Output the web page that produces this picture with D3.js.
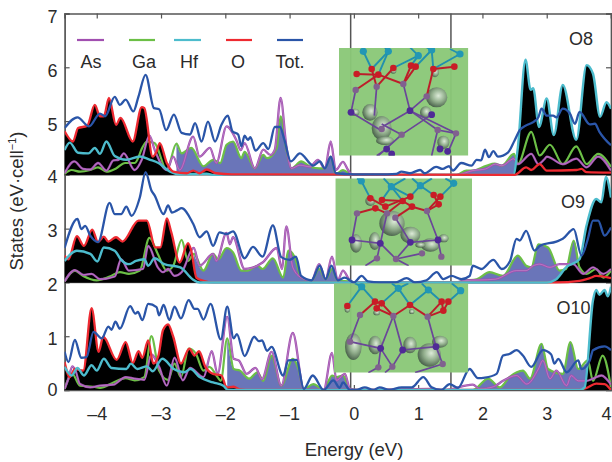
<!DOCTYPE html>
<html><head><meta charset="utf-8">
<style>html,body{margin:0;padding:0;background:#fff}svg{display:block}text{font-family:"Liberation Sans",Arial,sans-serif;fill:#2b2b2b}</style>
<script src="https://cdn.jsdelivr.net/npm/d3@7/dist/d3.min.js"></script>
</head><body><svg id="c" width="612" height="462"></svg>
<script>
// ---------- data: [energy (eV), states relative to panel baseline] ----------
const yTicks=[0,1,2,3,4,5,6,7];
const xTicks=[-4,-3,-2,-1,0,1,2,3,4];
const legendNames=["As","Ga","Hf","O","Tot."];
const vLines=[-0.05,1.51];

const o8Tot=[[-4.5,.87],[-4.3,1.07],[-4.12,.9],[-3.95,1.14],[-3.87,1.09],[-3.72,1.45],[-3.64,1.3],[-3.55,1.4],[-3.43,1.18],[-3.35,1.46],[-3.24,1.86],[-3.11,1.24],[-3.03,1.22],[-2.92,.83],[-2.8,1.12],[-2.68,.78],[-2.55,.75],[-2.47,.96],[-2.37,.62],[-2.27,.99],[-2.16,.62],[-2.06,.93],[-1.96,1.1],[-1.89,.81],[-1.8,.75],[-1.75,.53],[-1.7,.73],[-1.65,.65],[-1.61,.7],[-1.53,.45],[-1.41,.59],[-1.33,.48],[-1.23,.89],[-1.15,.89],[-1.08,.65],[-.98,.25],[-.84,.4],[-.63,.17],[-.53,.25],[-.45,.12],[-.36,.34],[-.28,.03],[0,.01],[.4,.01],[.66,.02],[.74,.06],[.87,.03],[1.03,.09],[1.1,.03],[1.28,.15],[1.38,.11],[1.48,.16],[1.54,.08],[1.67,.22],[1.83,.17],[1.91,.28],[1.98,.27],[2.04,.47],[2.1,.33],[2.17,.44],[2.24,.34],[2.4,.42],[2.5,.64],[2.58,.83],[2.68,.92],[2.79,.98],[2.87,1.07],[2.92,1.23],[3,1.1],[3.1,1.1],[3.15,1.07],[3.25,1.23],[3.36,1.14],[3.44,.95],[3.51,1.17],[3.67,.94],[3.75,.95],[3.82,.8],[4,.55]];
const o8O=[[-4.5,.81],[-4.37,.62],[-4.29,.87],[-4.15,.91],[-4.03,1.3],[-3.95,1.09],[-3.89,1.09],[-3.81,1.43],[-3.7,.93],[-3.63,1.06],[-3.44,.62],[-3.3,1.26],[-3.26,1.24],[-3.13,.34],[-3.07,.43],[-3.02,.59],[-2.91,.22],[-2.81,.06],[-2.6,.03],[-2.5,.08],[-2.4,.03],[-2.29,.1],[-2.14,.03],[-1.9,.01],[2.5,0],[2.68,.14],[2.76,.09],[2.89,.2],[3,.08],[3.46,.09],[3.54,.11],[3.62,.05],[4,.04]];
const o8Hf=[[-4.5,.46],[-4.42,.6],[-4.29,.41],[-4.13,.4],[-4.03,.5],[-3.95,.39],[-3.85,.62],[-3.72,.35],[-3.54,.28],[-3.33,.34],[-3.17,.28],[-3.04,.22],[-2.86,.06],[-2.71,.01],[-2.29,.02],[-2.18,0],[2.48,0],[2.55,.5],[2.67,2.14],[2.75,1.58],[2.79,1.61],[2.88,.89],[3,1.42],[3.11,.74],[3.25,1.67],[3.46,.65],[3.62,2.04],[3.72,1.88],[3.83,1.08],[3.93,1.35],[4,1.23]];
const o8As=[[-4.5,.03],[-4.35,.25],[-4.21,.11],[-4.1,.1],[-3.98,.22],[-3.85,.08],[-3.74,.27],[-3.66,.28],[-3.58,.4],[-3.41,.09],[-3.3,.28],[-3.18,.73],[-3.1,.47],[-2.91,.09],[-2.81,.34],[-2.71,.09],[-2.5,.71],[-2.4,.34],[-2.24,.5],[-2.14,.22],[-1.98,.9],[-1.83,.65],[-1.76,.46],[-1.7,.59],[-1.54,.12],[-1.41,.47],[-1.3,.37],[-1.23,.47],[-1.14,1.43],[-1.05,.53],[-.97,.12],[-.84,.18],[-.68,.15],[-.56,.28],[-.45,.12],[-.36,.62],[-.28,.09],[-.17,.24],[-.09,.09],[-.03,0],[1.6,0],[1.85,.08],[2.05,.11],[2.2,.2],[2.3,.17],[2.49,.3],[2.55,.2],[2.76,.39],[2.87,.2],[2.97,.3],[3,.34],[3.25,.2],[3.46,.3],[3.62,.14],[3.8,.34],[4,.08]];
const o8Ga=[[-4.5,.02],[-4.39,.09],[-4.26,.06],[-4.1,.09],[-3.98,.14],[-3.85,.06],[-3.7,.12],[-3.56,.22],[-3.41,.22],[-3.28,.53],[-3.22,.62],[-3.1,.59],[-2.91,.09],[-2.76,.58],[-2.68,.4],[-2.53,.5],[-2.34,.16],[-2.19,.28],[-2.08,.22],[-1.98,.56],[-1.88,.62],[-1.75,.31],[-1.7,.43],[-1.54,.12],[-1.41,.37],[-1.35,.31],[-1.2,.5],[-1.14,1.09],[-1.05,.47],[-.97,.12],[-.82,.25],[-.68,.15],[-.53,.12],[-.45,.12],[-.36,.34],[-.28,.01],[-.17,.09],[-.03,0],[1.6,0],[1.75,.08],[1.85,.08],[2.06,.17],[2.19,.21],[2.3,.17],[2.49,.39],[2.55,.2],[2.76,.8],[2.89,.36],[3.05,.56],[3.25,.2],[3.46,.53],[3.62,.2],[3.8,.39],[4,.15]];

const o9Tot=[[-4.5,.64],[-4.3,1.18],[-4.24,.99],[-4.18,1.05],[-4.1,.87],[-3.98,.75],[-3.8,1.48],[-3.72,1.27],[-3.62,1.27],[-3.54,1.41],[-3.46,1.24],[-3.33,1.58],[-3.24,2.05],[-3.15,1.71],[-3.1,1.62],[-2.96,1.27],[-2.89,1.43],[-2.83,1.3],[-2.75,1.34],[-2.68,1.38],[-2.5,1.09],[-2.4,.84],[-2.29,.95],[-2.19,.68],[-2.09,.93],[-1.98,.9],[-1.88,.95],[-1.7,.45],[-1.57,.66],[-1.42,.48],[-1.26,1.06],[-1.13,.47],[-1,.42],[-.9,.48],[-.82,.12],[-.66,.04],[-.53,.31],[-.44,.06],[-.35,.31],[-.25,.04],[-.14,.09],[0,0],[.12,.12],[.22,.02],[.4,0],[.65,0],[.82,.08],[.95,0],[1.13,.04],[1.29,.19],[1.39,.06],[1.52,.12],[1.67,.06],[1.8,.12],[1.85,.31],[1.98,.25],[2.17,.42],[2.3,.25],[2.43,.4],[2.53,.81],[2.58,.78],[2.68,.96],[2.81,.59],[2.89,.68],[3.15,.76],[3.25,.81],[3.42,.99],[3.54,.5],[3.64,.81],[3.72,1.15],[3.8,1.15],[3.9,.87],[4,1.02]];
const o9O=[[-4.5,.5],[-4.44,.43],[-4.31,.86],[-4.2,.68],[-4.07,.98],[-3.98,.75],[-3.89,.85],[-3.82,.76],[-3.7,.84],[-3.6,.76],[-3.35,1.15],[-3.22,1.15],[-3.09,.65],[-3.01,.65],[-2.91,1.19],[-2.84,.93],[-2.71,.37],[-2.58,.73],[-2.53,.59],[-2.45,.09],[-2.34,.03],[-2.19,0],[3.15,0],[3.51,.03],[3.67,.08],[3.77,.12],[4,.08]];
const o9Hf=[[-4.5,.4],[-4.31,.59],[-4.1,.53],[-3.99,.39],[-3.89,.65],[-3.72,.59],[-3.62,.42],[-3.5,.34],[-3.39,.4],[-3.26,.43],[-3.2,.31],[-3.1,.45],[-2.95,.34],[-2.7,.28],[-2.51,.06],[-2.4,0],[3,0],[3.15,.06],[3.3,.28],[3.51,.43],[3.62,1.06],[3.77,1.55],[3.85,1.49],[3.92,1.96],[4,1.58]];
const o9As=[[-4.5,.02],[-4.34,.23],[-4.21,.14],[-4.08,.16],[-3.95,.06],[-3.72,.11],[-3.62,.43],[-3.5,.22],[-3.28,.25],[-3.2,.68],[-3.05,.28],[-2.97,.19],[-2.89,.25],[-2.79,.12],[-2.68,.19],[-2.49,.64],[-2.4,.31],[-2.19,.53],[-2.14,.4],[-1.98,.92],[-1.93,.71],[-1.88,.84],[-1.7,.25],[-1.42,.37],[-1.2,.64],[-1.12,.25],[-1.05,1.04],[-.95,.28],[-.82,.09],[-.66,.03],[-.54,.34],[-.44,.06],[-.34,.48],[-.25,.04],[-.17,.22],[-.06,.03],[0,0],[1.6,0],[1.7,.03],[2.2,.06],[2.53,.22],[2.68,.22],[2.79,.31],[2.89,.34],[3.05,.28],[3.2,.34],[3.41,.34],[3.57,.16],[3.72,.28],[3.88,.16],[4,.25]];
const o9Ga=[[-4.5,.02],[-4.34,.22],[-4.21,.12],[-4,.04],[-3.8,.11],[-3.64,.19],[-3.5,.16],[-3.33,.22],[-3.18,.83],[-3.05,.53],[-2.91,.22],[-2.81,.31],[-2.68,.79],[-2.58,.4],[-2.49,.53],[-2.34,.22],[-2.19,.53],[-2.11,.43],[-1.98,.64],[-1.88,.56],[-1.75,.22],[-1.65,.22],[-1.5,.31],[-1.42,.25],[-1.26,.45],[-1.1,.09],[-1.02,.59],[-.92,.47],[-.82,.09],[-.66,.03],[-.54,.25],[-.44,.06],[-.34,.25],[-.25,.03],[-.06,.02],[0,0],[1.6,0],[1.7,.03],[1.91,.06],[2.11,.19],[2.32,.12],[2.55,.5],[2.68,.31],[2.76,.28],[2.87,.71],[3.02,.65],[3.2,.22],[3.3,.25],[3.42,.78],[3.51,.28],[3.62,.16],[3.77,.25],[3.88,.09],[4,.22]];

const o10Tot=[[-4.5,.71],[-4.44,.52],[-4.34,.93],[-4.24,.6],[-4.16,.61],[-4.05,1.08],[-3.92,.96],[-3.82,1.18],[-3.77,1.12],[-3.71,1.27],[-3.64,1.14],[-3.48,1.56],[-3.4,1.42],[-3.36,1.45],[-3.29,1.3],[-3.2,1.6],[-3.07,1.54],[-3.03,1.39],[-2.96,1.58],[-2.87,1.3],[-2.79,1.55],[-2.69,1.33],[-2.57,1.67],[-2.48,1.51],[-2.43,1.51],[-2.34,1.31],[-2.23,1.6],[-2.07,.94],[-1.97,1.55],[-1.87,.96],[-1.82,1.04],[-1.7,.63],[-1.55,.99],[-1.48,.91],[-1.43,.92],[-1.35,.73],[-1.28,.8],[-1.1,.27],[-1.02,.55],[-.89,.56],[-.78,.02],[-.64,.27],[-.47,0],[-.32,.18],[-.22,.04],[-.17,.14],[-.06,0],[.04,0],[.17,.05],[.3,0],[.4,.05],[.55,0],[.74,.05],[.9,.05],[1.08,.24],[1.21,.05],[1.36,0],[1.49,.11],[1.62,.04],[1.8,.39],[1.93,.22],[2.04,.23],[2.22,.3],[2.32,.64],[2.42,.67],[2.53,.74],[2.63,.64],[2.76,.43],[2.94,.74],[3.07,.66],[3.12,.49],[3.18,.58],[3.31,.33],[3.49,.55],[3.54,.39],[3.67,.55],[3.72,.74],[3.9,.81],[4,.74]];
const o10O=[[-4.5,.52],[-4.42,.24],[-4.34,.39],[-4.21,.36],[-4.08,1.52],[-3.97,.71],[-3.9,.99],[-3.69,.56],[-3.55,.89],[-3.44,.5],[-3.35,.72],[-3.29,.6],[-3.2,.92],[-3.12,.49],[-3.04,.64],[-2.97,1.11],[-2.89,1.22],[-2.81,.99],[-2.69,.49],[-2.56,.77],[-2.48,.64],[-2.41,.72],[-2.31,.43],[-2.19,.3],[-2.06,.27],[-1.98,.05],[-1.87,.06],[-1.77,.01],[-1.6,0],[3.51,0],[3.62,.04],[3.77,.12],[3.9,.11],[4,0]];
const o10Hf=[[-4.5,.43],[-4.39,.27],[-4.3,.41],[-4.2,.27],[-4.08,.46],[-4,.36],[-3.89,.58],[-3.77,.41],[-3.54,.39],[-3.47,.49],[-3.37,.39],[-3.22,.44],[-3.13,.35],[-2.98,.58],[-2.8,.39],[-2.64,.33],[-2.54,.39],[-2.4,.24],[-2.19,.14],[-2.03,.08],[-1.96,0],[3.51,0],[3.59,.05],[3.72,1.67],[3.77,1.86],[3.82,1.77],[3.9,1.86],[3.95,1.74],[4,1.92]];
const o10As=[[-4.5,.02],[-4.44,.21],[-4.38,.44],[-4.33,.36],[-4.26,.11],[-4.1,.05],[-3.95,.08],[-3.74,.1],[-3.55,.24],[-3.41,.21],[-3.26,.19],[-3.15,.66],[-3.03,.43],[-2.91,.08],[-2.79,.6],[-2.66,.18],[-2.55,.41],[-2.34,.24],[-2.21,.72],[-2.12,.3],[-1.97,1.36],[-1.87,.58],[-1.79,.55],[-1.67,.3],[-1.53,.41],[-1.43,.2],[-1.28,.71],[-1.13,.08],[-.95,1.06],[-.78,.02],[-.63,0],[-.47,0],[-.34,.69],[-.27,.18],[-.14,.3],[-.06,.02],[.04,0],[1.18,.02],[1.4,0],[1.85,.1],[1.96,.02],[2.17,.06],[2.32,.17],[2.53,.27],[2.69,.11],[2.87,.39],[2.94,.55],[3.05,.21],[3.15,.36],[3.31,.08],[3.38,.27],[3.49,.17],[3.62,.17],[3.72,.21],[3.85,.27],[4,.1]];
const o10Ga=[[-4.5,.02],[-4.38,.3],[-4.26,.08],[-4.05,.06],[-3.95,.04],[-3.74,.14],[-3.55,.22],[-3.41,.18],[-3.26,.24],[-3.15,1],[-3.03,.36],[-2.89,.19],[-2.79,.49],[-2.69,.24],[-2.57,.77],[-2.46,.68],[-2.34,.36],[-2.25,.43],[-2.12,.24],[-2.07,.17],[-1.97,.96],[-1.87,.39],[-1.77,.36],[-1.63,.21],[-1.5,.33],[-1.41,.17],[-1.28,.64],[-1.13,.08],[-.95,.58],[-.87,.42],[-.78,.02],[-.63,.11],[-.47,0],[-.34,.27],[-.27,.24],[-.17,.27],[-.06,.02],[.04,0],[1.85,0],[2.09,.21],[2.27,.05],[2.42,.24],[2.63,.36],[2.74,.21],[2.92,.86],[3.02,.39],[3.25,.3],[3.37,.89],[3.49,.39],[3.64,.55],[3.72,.17],[3.87,.64],[4,.05]];

const panels=[
 {label:"O8", base:4, Tot:o8Tot,O:o8O,Hf:o8Hf,As:o8As,Ga:o8Ga, fill:[-2.85,2.55], top:"O"},
 {label:"O9", base:2, Tot:o9Tot,O:o9O,Hf:o9Hf,As:o9As,Ga:o9Ga, fill:[-2.5,3.56], top:"Hf"},
 {label:"O10",base:0, Tot:o10Tot,O:o10O,Hf:o10Hf,As:o10As,Ga:o10Ga, fill:[-2.0,3.65], top:"Hf"}
];

// structure insets (illustration, in 3x-zoomed local units)
const inset1={o:[335,44],rect:[12,12,400,335],
 blobs:[[305,160,32,30],[105,205,23,25],[140,252,30,36],[150,290,27,13],[272,205,17,18],[300,85,12,15],[325,295,18,20],[60,205,13,11],[175,80,9,9]],
 bondsHf:[[85,22,110,75],[160,22,130,92],[160,22,110,75],[160,22,145,5],[250,35,228,65],[250,35,175,72],[250,35,220,5],[290,18,295,75],[290,18,242,68],[290,18,265,5],[375,30,295,75],[375,30,345,15]],
 bondsO:[[65,90,130,92],[110,75,125,128],[130,92,62,138],[175,72,125,128],[228,65,205,120],[295,75,358,68],[295,75,275,157],[242,68,205,120],[130,92,205,120]],
 bondsAs:[[62,138,48,205],[125,128,118,215],[205,120,225,200],[275,157,225,200],[48,205,140,260],[225,200,140,250],[225,200,363,268],[290,212,200,272],[140,240,200,272],[200,272,130,335],[308,258,290,335],[308,258,363,268],[363,268,340,322],[155,315,125,335],[225,200,308,258]],
 hf:[[85,22],[160,22],[250,35],[290,18],[375,30]],
 ox:[[65,90],[110,75],[130,92],[175,72],[228,65],[242,68],[295,75],[358,68]],
 as:[[62,138],[125,128],[205,120],[275,157],[200,272],[308,258],[363,268],[140,255]],
 ga:[[48,205],[225,200],[290,212],[155,315],[170,330],[315,315],[338,322]]};
const inset2={o:[332,175],rect:[10,10,420,272],
 blobs:[[180,145,38,38],[235,180,30,25],[72,205,18,28],[128,198,17,27],[295,210,28,20],[335,190,15,12],[115,78,15,15],[265,210,15,8]],
 bondsHf:[[88,18,115,70],[178,35,150,75],[178,35,212,78],[178,35,235,65],[265,32,235,65],[265,32,305,60],[365,25,325,65],[178,35,155,10],[178,35,220,10],[265,32,300,10],[88,18,75,10],[265,32,240,10],[365,25,340,10]],
 bondsO:[[75,115,130,100],[130,100,165,115],[165,115,212,78],[190,128,240,95],[240,95,285,108],[285,108,320,88],[115,70,160,95],[150,75,212,78],[212,78,240,95],[235,65,160,95],[305,60,320,88],[325,65,285,108]],
 bondsAs:[[75,115,60,195],[165,115,145,205],[190,128,235,202],[285,108,318,195],[60,195,145,205],[235,202,318,195],[145,205,135,250],[145,205,192,252],[235,202,192,252],[318,195,328,245],[192,252,270,235],[135,250,100,272],[192,252,230,272]],
 hf:[[88,18],[178,35],[265,32],[365,25]],
 ox:[[115,70],[150,75],[130,100],[212,78],[235,65],[240,95],[160,95],[305,60],[325,65],[320,88]],
 as:[[75,115],[165,115],[190,128],[285,108],[135,250],[192,252],[270,235],[328,245]],
 ga:[[60,195],[145,205],[235,202],[318,195]]};
const inset3={o:[330,280],rect:[12,10,415,278],
 blobs:[[70,200,25,40],[135,195,20,28],[240,195,20,25],[298,225,35,35],[330,185,24,18],[52,88,8,10],[140,98,10,8],[245,95,8,7]],
 bondsHf:[[95,20,52,78],[95,20,135,65],[95,20,75,10],[205,25,155,70],[205,25,240,75],[205,25,185,10],[205,25,235,10],[295,30,240,75],[295,30,335,65],[295,30,275,10],[392,32,355,65],[392,32,365,10]],
 bondsO:[[135,65,90,105],[155,70,190,108],[140,85,190,108],[240,75,190,108],[240,75,293,110],[335,65,293,110],[355,65,340,92],[340,92,293,110],[135,65,155,70],[140,85,155,70],[335,65,340,92]],
 bondsAs:[[90,105,60,185],[190,108,152,205],[190,108,218,210],[293,110,318,200],[60,185,152,205],[218,210,318,200],[152,205,145,262],[152,205,187,260],[218,210,187,260],[318,200,338,252],[145,262,115,278],[187,260,165,278],[338,252,255,278]],
 hf:[[95,20],[205,25],[295,30],[392,32]],
 ox:[[52,78],[135,65],[155,70],[140,85],[240,75],[335,65],[355,65],[340,92]],
 as:[[90,105],[190,108],[293,110],[60,185],[145,262],[187,260],[338,252]],
 ga:[[152,205],[218,210],[318,200]]};
const insets=[inset1,inset2,inset3];

// ---------- drawing ----------
const colors={As:"#a14fb0",Ga:"#6cbf46",Hf:"#4dbccd",O:"#ee2a30",Tot:"#2a55a8"};
const fillBlue="#6a74b9";
const frame="#555";
const svg=d3.select("#c");
const x=d3.scaleLinear().domain([-4.5,4]).range([64.6,611]);
const y=d3.scaleLinear().domain([0,7]).range([390,13.5]);

const defs=svg.append("defs");
defs.append("clipPath").attr("id","plot").append("rect")
  .attr("x",x(-4.5)).attr("y",y(7)).attr("width",x(4)-x(-4.5)).attr("height",y(0)-y(7));
const grad=defs.append("radialGradient").attr("id","blob").attr("cx",.58).attr("cy",.42).attr("r",.62);
grad.append("stop").attr("offset","0").attr("stop-color","#e4eee0");
grad.append("stop").attr("offset",".5").attr("stop-color","#93ad8f");
grad.append("stop").attr("offset","1").attr("stop-color","#3f5442");
defs.append("filter").attr("id","soft").attr("x","-5%").attr("y","-5%").attr("width","110%").attr("height","110%")
  .append("feGaussianBlur").attr("stdDeviation",.6);
defs.append("filter").attr("id","soft2").attr("filterUnits","userSpaceOnUse").attr("x",0).attr("y",0).attr("width",612).attr("height",462)
  .append("feGaussianBlur").attr("stdDeviation",.35);

// separators & reference lines under the data
const under=svg.append("g");
[2,4].forEach(v=>under.append("line").attr("x1",x(-4.5)).attr("x2",x(4)).attr("y1",y(v)).attr("y2",y(v))
   .attr("stroke",frame).attr("stroke-width",1.6).attr("opacity",.7));
vLines.forEach(v=>under.append("line").attr("x1",x(v)).attr("x2",x(v)).attr("y1",y(7)).attr("y2",y(0))
   .attr("stroke",frame).attr("stroke-width",1.5));

// frame and axes under the data
const fmt=d=>String(d).replace("-","\u2013");
const axB=d3.axisBottom(x).tickValues(xTicks).tickFormat(fmt).tickSize(-5).tickPadding(17);
const axT=d3.axisTop(x).tickValues(xTicks).tickFormat("").tickSize(-5);
const axL=d3.axisLeft(y).tickValues(yTicks).tickFormat(d3.format("d")).tickSize(-5).tickPadding(7);
const axR=d3.axisRight(y).tickValues(yTicks).tickFormat("").tickSize(-5);
const style=s=>{s.selectAll("path").attr("stroke",frame).attr("stroke-width",1.7).attr("fill","none");
  s.selectAll("line").attr("stroke",frame).attr("stroke-width",1.2);
  s.selectAll("text").style("font-size","18px").attr("fill","#2b2b2b")
    .style("font-family",'"Liberation Sans",Arial,sans-serif');};
under.append("g").attr("transform",`translate(0,${y(0)})`).call(axB).call(style)
  .selectAll(".tick").filter(d=>d===4).select("text").attr("text-anchor","end").attr("dx",0);
under.append("g").attr("transform",`translate(0,${y(7)})`).call(axT).call(style);
under.append("g").attr("transform",`translate(${x(-4.5)},0)`).call(axL).call(style)
  .selectAll(".tick text").attr("dy","0.32em").attr("transform",d=>`translate(0,${d===0?0:d>=5?3.5:2.2})`);
under.append("g").attr("transform",`translate(${x(4)},0)`).call(axR).call(style);

const plot=svg.append("g").attr("clip-path","url(#plot)").attr("filter","url(#soft2)");
panels.forEach(p=>{
  const X=d=>x(d[0]), Y=d=>y(p.base+d[1]);
  const line=d3.line().x(X).y(Y).curve(d3.curveMonotoneX);
  const area=d3.area().x(X).y0(y(p.base)).y1(Y).curve(d3.curveMonotoneX);
  const g=plot.append("g");
  g.append("path").attr("d",area(p.Ga.filter(d=>d[0]>=p.fill[0]&&d[0]<=p.fill[1]))).attr("fill",fillBlue);
  g.append("path").attr("d",area(p.O)).attr("fill","#000");
  g.append("path").attr("d",area(p.Hf)).attr("fill","#000");
  const stroke=(s,c,w)=>g.append("path").attr("d",line(s)).attr("fill","none").attr("stroke",c)
     .attr("stroke-width",w).attr("stroke-linejoin","round");
  stroke(p.Ga,colors.Ga,2.2);
  stroke(p.As,colors.As,2.3);
  stroke(p.As,"#ecd6ec",.3);
  if(p.top==="O"){stroke(p.Hf,colors.Hf,2.4);stroke(p.O,colors.O,2.3);}
  else{stroke(p.O,colors.O,2.3);stroke(p.Hf,colors.Hf,2.4);}
  stroke(p.Tot,colors.Tot,2.3);
});

// insets
insets.forEach((ins,i)=>{
  const sx=d3.scaleLinear().domain([0,3]).range([ins.o[0],ins.o[0]+1]);
  const sy=d3.scaleLinear().domain([0,3]).range([ins.o[1],ins.o[1]+1]);
  const cid="ins"+i;
  const r=ins.rect;
  defs.append("clipPath").attr("id",cid).append("rect").attr("x",sx(r[0])).attr("y",sy(r[1]))
    .attr("width",sx(r[2])-sx(r[0])).attr("height",sy(r[3])-sy(r[1]));
  const g0=svg.append("g").attr("clip-path",`url(#${cid})`);
  const g=g0.append("g").attr("filter","url(#soft)");
  g0.insert("rect","g").attr("x",sx(r[0])).attr("y",sy(r[1])).attr("width",sx(r[2])-sx(r[0]))
    .attr("height",sy(r[3])-sy(r[1])).attr("fill","#8ac878").attr("fill-opacity",.96);
  g.selectAll(".b").data(ins.blobs).enter().append("ellipse")
    .attr("cx",d=>sx(d[0])).attr("cy",d=>sy(d[1])).attr("rx",d=>d[2]/3).attr("ry",d=>d[3]/3)
    .attr("fill","url(#blob)").attr("opacity",.92);
  const bonds=(list,c,w)=>g.append("g").selectAll("line").data(list).enter().append("line")
    .attr("x1",d=>sx(d[0])).attr("y1",d=>sy(d[1])).attr("x2",d=>sx(d[2])).attr("y2",d=>sy(d[3]))
    .attr("stroke",c).attr("stroke-width",w);
  bonds(ins.bondsAs,"#6a4698",1.7);
  bonds(ins.bondsHf,"#2090ae",1.9);
  bonds(ins.bondsO,"#bd1f2a",2);
  const atoms=(list,c,rad)=>g.append("g").selectAll("circle").data(list).enter().append("circle")
    .attr("cx",d=>sx(d[0])).attr("cy",d=>sy(d[1])).attr("r",rad).attr("fill",c);
  atoms(ins.hf,"#2097b5",3.6);
  atoms(ins.ox,"#c91c28",3.3);
  atoms(ins.as,"#80608f",3.2);
  atoms(ins.ga,"#4f2c96",3.4);
});

// titles
svg.append("text").attr("x",354).attr("y",456).attr("text-anchor","middle").style("font-size","18.5px").text("Energy (eV)");
const yt=svg.append("text").attr("transform","translate(23,201) rotate(-90)").attr("text-anchor","middle").style("font-size","18.5px");
yt.append("tspan").text("States (eV\u00b7cell");
yt.append("tspan").attr("dy",-7).style("font-size","11px").text("\u22121");
yt.append("tspan").attr("dy",7).text(")");

// panel labels
const labelPos=[[581,45],[573,208],[573.5,314]];
panels.forEach((p,i)=>svg.append("text").attr("x",labelPos[i][0]).attr("y",labelPos[i][1])
  .attr("text-anchor","middle").style("font-size","18px").text(p.label));

// legend
const legendCol=[colors.As,colors.Ga,colors.Hf,colors.O,colors.Tot];
const legendLine=[[77,104],[129,155],[174,201],[226,252],[277,303]];
const legendText=[91,144,189,238,290];
legendNames.forEach((n,i)=>{
  svg.append("line").attr("x1",legendLine[i][0]).attr("x2",legendLine[i][1]).attr("y1",40).attr("y2",40)
     .attr("stroke",legendCol[i]).attr("stroke-width",2.2);
  svg.append("text").attr("x",legendText[i]).attr("y",68).attr("text-anchor","middle").style("font-size","18px").text(n);
});
</script></body></html>
